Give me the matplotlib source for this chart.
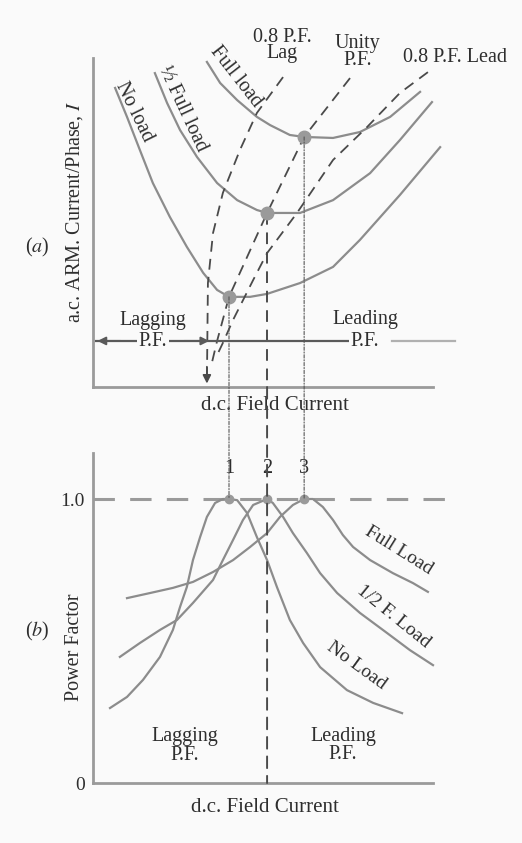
import matplotlib
matplotlib.use("Agg")
import matplotlib.pyplot as plt
from matplotlib.patches import ConnectionPatch

plt.rcParams["font.family"] = ["Liberation Serif", "DejaVu Serif"]
plt.rcParams["mathtext.fontset"] = "stix"

BG = "#fafafa"
CURVE = "#8c8c8c"
DASH = "#4a4a4a"
TXT = "#2e2e2e"

# ---- (a) V-curves: armature current vs field current ----
noload_x = [0.65, 1.0, 1.38, 1.76, 2.26, 2.76, 3.24, 3.65, 4.0, 4.62, 5.12, 6.09, 7.06, 7.85, 9.03, 10.21]
noload_y = [9.09, 8.21, 7.20, 6.20, 5.17, 4.26, 3.47, 2.95, 2.74, 2.74, 2.83, 3.16, 3.65, 4.47, 5.84, 7.29]

half_x = [1.82, 2.18, 2.56, 3.06, 3.65, 4.24, 4.82, 5.12, 6.09, 7.06, 8.15, 9.03, 9.97]
half_y = [9.54, 8.63, 7.81, 6.99, 6.20, 5.68, 5.38, 5.29, 5.29, 5.68, 6.50, 7.51, 8.66]

full_x = [3.35, 3.74, 4.24, 4.82, 5.21, 5.79, 6.21, 7.06, 7.85, 8.74, 9.62]
full_y = [9.88, 9.24, 8.72, 8.21, 7.96, 7.66, 7.60, 7.57, 7.75, 8.21, 8.97]

# minimum points (unity p.f.)
min_x = [4.0, 5.12, 6.21]
min_y = [2.74, 5.29, 7.60]

# compounding curves
lag_x = [5.59, 4.82, 4.32, 3.82, 3.53, 3.38, 3.35]
lag_y = [9.42, 8.33, 7.20, 5.90, 4.68, 3.16, 0.12]
unity_x = [7.56, 6.21, 5.12, 4.0, 3.65, 3.5]
unity_y = [9.39, 7.60, 5.29, 2.74, 1.40, 0.75]
lead_x = [9.85, 9.03, 8.06, 7.06, 6.0, 5.12, 4.71, 4.12, 3.82, 3.65]
lead_y = [9.57, 8.94, 7.90, 6.90, 5.29, 4.07, 3.25, 2.04, 1.34, 0.97]

# ---- (b) inverted V-curves: power factor vs field current ----
pf_no_x = [0.50, 1.0, 1.47, 1.97, 2.35, 2.56, 2.76, 2.94, 3.15, 3.35, 3.59, 3.82, 4.0,
           4.24, 4.53, 4.82, 5.12, 5.41, 5.79, 6.18, 6.68, 7.47, 8.24, 9.09]
pf_no_y = [0.264, 0.303, 0.363, 0.444, 0.539, 0.620, 0.690, 0.785, 0.866, 0.937, 0.986, 1.0, 1.0,
           0.996, 0.951, 0.866, 0.785, 0.690, 0.574, 0.493, 0.408, 0.327, 0.282, 0.246]

pf_half_x = [0.79, 1.38, 1.97, 2.47, 2.94, 3.53, 3.82, 4.12, 4.41, 4.71, 5.12,
             5.29, 5.59, 5.88, 6.29, 6.68, 7.18, 7.85, 8.65, 9.32, 10.0]
pf_half_y = [0.444, 0.493, 0.539, 0.574, 0.634, 0.715, 0.785, 0.856, 0.926, 0.979, 1.0,
             0.986, 0.937, 0.880, 0.810, 0.739, 0.669, 0.599, 0.528, 0.468, 0.415]

pf_full_x = [1.0, 1.68, 2.35, 2.94, 3.53, 4.12, 4.62, 5.12, 5.5, 5.88, 6.21, 6.47,
             6.76, 7.06, 7.35, 7.65, 8.15, 8.82, 9.41, 9.85]
pf_full_y = [0.651, 0.669, 0.687, 0.708, 0.743, 0.785, 0.831, 0.880, 0.937, 0.979, 1.0, 1.0,
             0.972, 0.926, 0.873, 0.831, 0.785, 0.739, 0.704, 0.673]

peak_labels = ["1", "2", "3"]

fig = plt.figure(figsize=(5.22, 8.43), dpi=100, facecolor=BG)
ax1 = fig.add_axes([93 / 522, 456 / 843, 340 / 522, 329 / 843])
ax2 = fig.add_axes([93 / 522, 60 / 843, 340 / 522, 330 / 843])

for ax in (ax1, ax2):
    ax.set_facecolor(BG)
    ax.set_xlim(0, 10)
    for s in ("top", "right"):
        ax.spines[s].set_visible(False)
    for s in ("left", "bottom"):
        ax.spines[s].set_color("#9a9a9a")
        ax.spines[s].set_linewidth(2)
    ax.set_xticks([])

ax1.set_ylim(0, 10)
ax1.set_yticks([])
ax2.set_ylim(0, 1.162)
ax2.set_yticks([0, 1.0])
ax2.set_yticklabels(["0", "1.0"], fontsize=14, color=TXT)
ax2.tick_params(axis="y", length=0, pad=6)

# V-curves
for xs, ys in [(noload_x, noload_y), (half_x, half_y), (full_x, full_y)]:
    ax1.plot(xs, ys, color=CURVE, lw=1.6, clip_on=False, solid_joinstyle="round")

for xs, ys in [(lag_x, lag_y), (unity_x, unity_y), (lead_x, lead_y)]:
    ax1.plot(xs, ys, color=DASH, lw=1.3, dashes=(6, 4), clip_on=False)
ax1.annotate("", xy=(lag_x[-1], 0.02), xytext=(lag_x[-1], 0.7),
             arrowprops=dict(arrowstyle="-|>", color=DASH, lw=1.3, mutation_scale=12))

ax1.plot(min_x, min_y, "o", color="#9a9a9a", ms=9, zorder=5)
ax1.plot([min_x[1], min_x[1]], [min_y[1], 0], color=DASH, lw=1.4, dashes=(6, 4))

# lagging / leading arrow line
ax1.plot([0.1, 7.5], [1.4, 1.4], color="#5a5a5a", lw=1.6, zorder=2)
ax1.plot([8.8, 10.65], [1.4, 1.4], color="#b0b0b0", lw=1.6, clip_on=False, zorder=2)
ax1.annotate("", xy=(0.05, 1.4), xytext=(0.9, 1.4),
             arrowprops=dict(arrowstyle="-|>", color="#5a5a5a", lw=1.4, mutation_scale=12))
ax1.annotate("", xy=(3.5, 1.4), xytext=(2.6, 1.4),
             arrowprops=dict(arrowstyle="-|>", color="#5a5a5a", lw=1.4, mutation_scale=12))
box = dict(facecolor=BG, edgecolor="none", pad=1.5)
ax1.text(1.76, 2.02, "Lagging", ha="center", va="center", fontsize=14.5, color=TXT)
ax1.text(1.76, 1.38, "P.F.", ha="center", va="center", fontsize=14.5, color=TXT, bbox=box, zorder=4)
ax1.text(8.0, 2.06, "Leading", ha="center", va="center", fontsize=14.5, color=TXT)
ax1.text(8.0, 1.38, "P.F.", ha="center", va="center", fontsize=14.5, color=TXT, bbox=box, zorder=4)

# curve labels (a)
ax1.text(1.21, 8.36, "No load", rotation=-64, rotation_mode="anchor", ha="center", va="center",
         fontsize=14.5, color=TXT)
ax1.text(2.62, 8.45, "½ Full load", rotation=-65, rotation_mode="anchor", ha="center", va="center",
         fontsize=14.5, color=TXT)
ax1.text(4.2, 9.42, "Full load", rotation=-52, rotation_mode="anchor", ha="center", va="center",
         fontsize=14.5, color=TXT)
ax1.text(5.56, 10.38, "0.8 P.F.\nLag", ha="center", va="center", fontsize=14.5, color=TXT,
         linespacing=0.85)
ax1.text(7.79, 10.18, "Unity\nP.F.", ha="center", va="center", fontsize=14.5, color=TXT,
         linespacing=0.85)
ax1.text(10.65, 10.0, "0.8 P.F. Lead", ha="center", va="center", fontsize=14.5, color=TXT)

ax1.text(0.535, -0.055, "d.c. Field Current", transform=ax1.transAxes, ha="center", va="center",
         fontsize=15, color=TXT)
ax1.text(-0.053, 0.532, r"a.c. ARM. Current/Phase, $I$", transform=ax1.transAxes, rotation=90,
         ha="center", va="center", fontsize=14.5, color=TXT)
ax1.text(-0.165, 0.425, r"($a$)", transform=ax1.transAxes, ha="center", va="center",
         fontsize=14.5, color=TXT)

# inverted V-curves
ax2.axhline(1.0, xmax=1.044, color="#9a9a9a", lw=2.2, dashes=(7, 5), clip_on=False)
for xs, ys in [(pf_no_x, pf_no_y), (pf_half_x, pf_half_y), (pf_full_x, pf_full_y)]:
    ax2.plot(xs, ys, color=CURVE, lw=1.6, clip_on=False, solid_joinstyle="round")
ax2.plot(min_x, [1.0] * 3, "o", color="#9a9a9a", ms=6, zorder=5)

# links between the two panels
for i, (mx, my) in enumerate(zip(min_x, min_y)):
    if i == 1:
        con = ConnectionPatch(xyA=(mx, 0), coordsA=ax1.transData, xyB=(mx, 0),
                              coordsB=ax2.transData, color=DASH, lw=1.4, linestyle=(0, (6, 4)))
    else:
        con = ConnectionPatch(xyA=(mx, my), coordsA=ax1.transData, xyB=(mx, 1.0),
                              coordsB=ax2.transData, color="#555555", lw=0.8,
                              linestyle=(0, (3, 1.5, 1, 1.5)))
    fig.add_artist(con)
    ax2.text(mx, 1.108, peak_labels[i], ha="center", va="center", fontsize=14.5, color=TXT,
             bbox=dict(facecolor=BG, edgecolor="none", pad=1), zorder=6)

ax2.text(9.0, 0.82, "Full Load", rotation=-32, rotation_mode="anchor", ha="center", va="center",
         fontsize=14, color=TXT)
ax2.text(8.85, 0.585, "1/2 F. Load", rotation=-39, rotation_mode="anchor", ha="center",
         va="center", fontsize=14, color=TXT)
ax2.text(7.76, 0.415, "No Load", rotation=-36, rotation_mode="anchor", ha="center", va="center",
         fontsize=14, color=TXT)
ax2.text(2.7, 0.13, "Lagging\nP.F.", ha="center", va="center", fontsize=14.5, color=TXT,
         linespacing=0.95)
ax2.text(7.35, 0.132, "Leading\nP.F.", ha="center", va="center", fontsize=14.5, color=TXT,
         linespacing=0.95)

ax2.text(0.506, -0.073, "d.c. Field Current", transform=ax2.transAxes, ha="center", va="center",
         fontsize=15, color=TXT)
ax2.text(-0.053, 0.412, "Power Factor", transform=ax2.transAxes, rotation=90, ha="center",
         va="center", fontsize=14.5, color=TXT)
ax2.text(-0.165, 0.458, r"($b$)", transform=ax2.transAxes, ha="center", va="center",
         fontsize=14.5, color=TXT)

fig.savefig("out.png", dpi=100, facecolor=BG)
